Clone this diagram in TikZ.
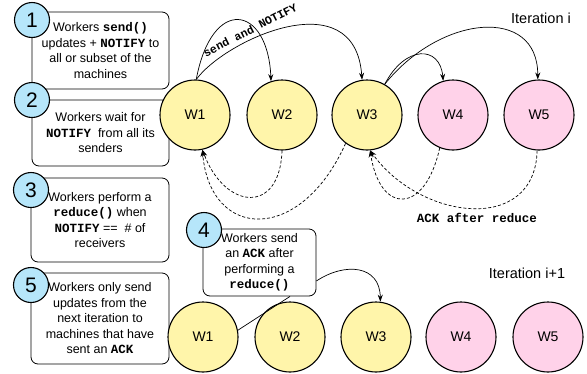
\documentclass[tikz,border=0pt]{standalone}
\usepackage{fontspec}
\setmainfont{Liberation Sans}
\newfontfamily\monofam{Liberation Mono}
\usetikzlibrary{arrows.meta}
\newcommand\cd[1]{{\monofam\bfseries #1}}
\definecolor{wy}{RGB}{255,245,170}
\definecolor{wp}{RGB}{255,210,233}
\definecolor{nb}{RGB}{182,230,250}
\tikzset{
  worker/.style={circle, draw, line width=1.1pt, minimum size=70pt, inner sep=0pt, font=\fontsize{14}{16}\selectfont},
  wyel/.style={worker, fill=wy},
  wpink/.style={worker, fill=wp},
  box/.style={draw, line width=0.8pt, rounded corners=7pt, align=center, inner sep=0pt, font=\fontsize{12.5}{15.5}\selectfont, fill=white},
  num/.style={circle, draw, line width=1.1pt, fill=nb, minimum size=35pt, inner sep=0pt, font=\fontsize{21}{21}\selectfont},
  arr/.style={line width=0.7pt, -{Stealth[length=7pt,width=5pt]}},
  ack/.style={arr, dashed, dash pattern=on 3pt off 2pt},
  lbl/.style={font=\fontsize{14.5}{16}\selectfont}
}
\begin{document}
\begin{tikzpicture}[x=1pt,y=-1pt]
\useasboundingbox (0,0) rectangle (587,373);
% boxes
\node[box, minimum width=137pt, minimum height=77pt] (b1) at (100.5,50.5) {Workers \cd{send()}\\updates + \cd{NOTIFY} to\\all or subset of the\\machines};
\node[box, minimum width=137pt, minimum height=66pt] (b2) at (100.5,133) {Workers wait for\\\cd{NOTIFY}\ \ from all its\\senders};
\node[box, minimum width=138pt, minimum height=84pt] (b3) at (100,220) {Workers perform a\\\cd{reduce()} when\\\cd{NOTIFY} ==\ \ \# of\\receivers};
\node[box, minimum width=138pt, minimum height=91pt] (b5) at (100,318.5) {Workers only send\\updates from the\\next iteration to\\machines that have\\sent an \cd{ACK}};
\node[box, minimum width=113pt, minimum height=67pt] (b4) at (259.5,262.5) {Workers send\\an \cd{ACK} after\\performing a\\\cd{reduce()}};
% number circles
\node[num] (n1) at (32,20) {1};
\node[num] (n2) at (32,100) {2};
\node[num] (n3) at (31,190) {3};
\node[num] (n5) at (31,285) {5};
\node[num] (n4) at (204,230) {4};
% workers, iteration i
\node[wyel] (a1) at (195,115) {W1};
\node[wyel] (a2) at (282,115) {W2};
\node[wyel] (a3) at (367,115) {W3};
\node[wpink] (a4) at (453,115) {W4};
\node[wpink] (a5) at (539,115) {W5};
% workers, iteration i+1
\node[wyel] (c1) at (203,337) {W1};
\node[wyel] (c2) at (290,337) {W2};
\node[wyel] (c3) at (376,337) {W3};
\node[wpink] (c4) at (461,337) {W4};
\node[wpink] (c5) at (548,337) {W5};
% labels
\node[lbl] (it1) at (541,18) {Iteration i};
\node[lbl] (it2) at (527,273) {Iteration i+1};
\node[font=\monofam\bfseries\fontsize{12.5}{14}\selectfont] (ackl) at (477,218) {ACK after reduce};
\node[font=\monofam\bfseries\fontsize{11.5}{12}\selectfont, rotate=27, inner sep=0pt] (sn) at (250,30) {send and NOTIFY};
% send arrows
\draw[arr] (a1.88) .. controls (212,-5) and (268,5) .. (a2.108);
\draw[arr] (a1.88) .. controls (225,40) and (355,-20) .. (a3.98);
\draw[arr] (a3.60) .. controls (405,45) and (440,45) .. (a4.106);
\draw[arr] (a3.60) .. controls (440,15) and (538,5) .. (a5.92);
% ack arrows
\draw[ack] (a2.270) .. controls (280,215) and (225,210) .. (a1.282);
\draw[ack] (a3.233) .. controls (300,245) and (210,240) .. (a1.282);
\draw[ack] (a4.248) .. controls (425,215) and (380,215) .. (a3.275);
\draw[ack] (a5.267) .. controls (535,235) and (420,220) .. (a3.275);
% iteration i+1
\draw[arr] (b4.-18) .. controls (345,262) and (380,265) .. (c3.83);
\draw[line width=0.7pt] (c1.11) -- (b4.-48);
\end{tikzpicture}
\end{document}
